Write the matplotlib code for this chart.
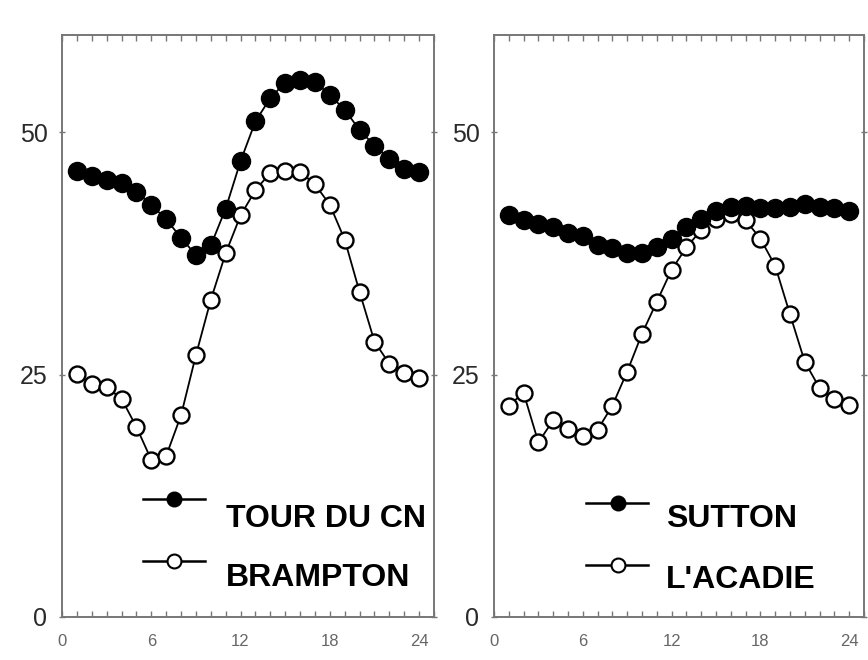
import matplotlib.pyplot as plt
import numpy as np
from matplotlib.ticker import MultipleLocator

plt.rcParams["font.family"] = ["Liberation Sans", "DejaVu Sans"]

hours = np.arange(1, 25)

# left panel
tour_cn = [46.0, 45.5, 45.1, 44.7, 43.8, 42.5, 41.0, 39.1, 37.3, 38.3, 42.1, 47.0,
           51.1, 53.5, 55.1, 55.4, 55.2, 53.8, 52.3, 50.2, 48.6, 47.2, 46.2, 45.9]
brampton = [25.1, 24.0, 23.7, 22.5, 19.6, 16.2, 16.6, 20.8, 27.0, 32.7, 37.5, 41.4,
            44.0, 45.8, 46.0, 45.9, 44.6, 42.5, 38.9, 33.5, 28.4, 26.1, 25.2, 24.6]

# right panel
sutton = [41.4, 40.9, 40.5, 40.2, 39.6, 39.3, 38.4, 38.0, 37.5, 37.5, 38.1, 39.0,
          40.2, 41.0, 41.9, 42.3, 42.4, 42.2, 42.2, 42.3, 42.6, 42.3, 42.2, 41.9]
lacadie = [21.8, 23.1, 18.0, 20.3, 19.4, 18.7, 19.3, 21.8, 25.3, 29.2, 32.5, 35.8,
           38.1, 39.9, 41.0, 41.5, 40.9, 39.0, 36.2, 31.2, 26.3, 23.6, 22.5, 21.9]

x_ticks = [0, 6, 12, 18, 24]
y_ticks = [0, 25, 50]

panels = [
    (tour_cn, brampton, "TOUR DU CN", "BRAMPTON",
     [62 / 868, 43 / 660, 372 / 868, 582 / 660],
     dict(line_x=(0.218, 0.384), mark_x=0.301, line_y=(0.203, 0.096),
          text_x=0.441, text_y=(0.155, 0.053))),
    (sutton, lacadie, "SUTTON", "L'ACADIE",
     [494 / 868, 43 / 660, 370 / 868, 582 / 660],
     dict(line_x=(0.249, 0.416), mark_x=0.334, line_y=(0.196, 0.089),
          text_x=0.465, text_y=(0.155, 0.049))),
]

fig = plt.figure(figsize=(8.68, 6.6), dpi=100)
fig.patch.set_facecolor("white")

spine_col = "#777777"

for filled, hollow, lab1, lab2, rect, leg in panels:
    ax = fig.add_axes(rect)
    ax.plot(hours, filled, "-", color="black", lw=1.3, marker="o", ms=13,
            mfc="black", mec="black", zorder=3)
    ax.plot(hours, hollow, "-", color="black", lw=1.3, marker="o", ms=11.5,
            mfc="white", mec="black", mew=1.7, zorder=2)

    ax.set_xlim(0, 25)
    ax.set_ylim(0, 60)
    ax.set_xticks(x_ticks)
    ax.set_yticks(y_ticks)
    ax.xaxis.set_minor_locator(MultipleLocator(1))

    for s in ax.spines.values():
        s.set_color(spine_col)
        s.set_linewidth(1.4)

    ax.tick_params(axis="x", which="both", direction="in", top=True, bottom=True,
                   color=spine_col, length=4, width=1, labelsize=12,
                   labelcolor="#666666", pad=12)
    ax.tick_params(axis="y", which="major", direction="inout", left=True, right=True,
                   color=spine_col, length=5, width=1, labelsize=18,
                   labelcolor="#2a2a2a", pad=8)

    # hand-made legend
    for y_line, y_text, mfc, text in [(leg["line_y"][0], leg["text_y"][0], "black", lab1),
                                      (leg["line_y"][1], leg["text_y"][1], "white", lab2)]:
        ax.plot(leg["line_x"], [y_line, y_line], color="black", lw=1.8,
                transform=ax.transAxes, zorder=4)
        ax.plot([leg["mark_x"]], [y_line], marker="o", ms=10, mfc=mfc, mec="black",
                mew=1.5, transform=ax.transAxes, zorder=5)
        ax.text(leg["text_x"], y_text, text, transform=ax.transAxes, ha="left",
                va="baseline", fontsize=23, fontweight="bold", color="black")

fig.savefig("out.png", dpi=100)
